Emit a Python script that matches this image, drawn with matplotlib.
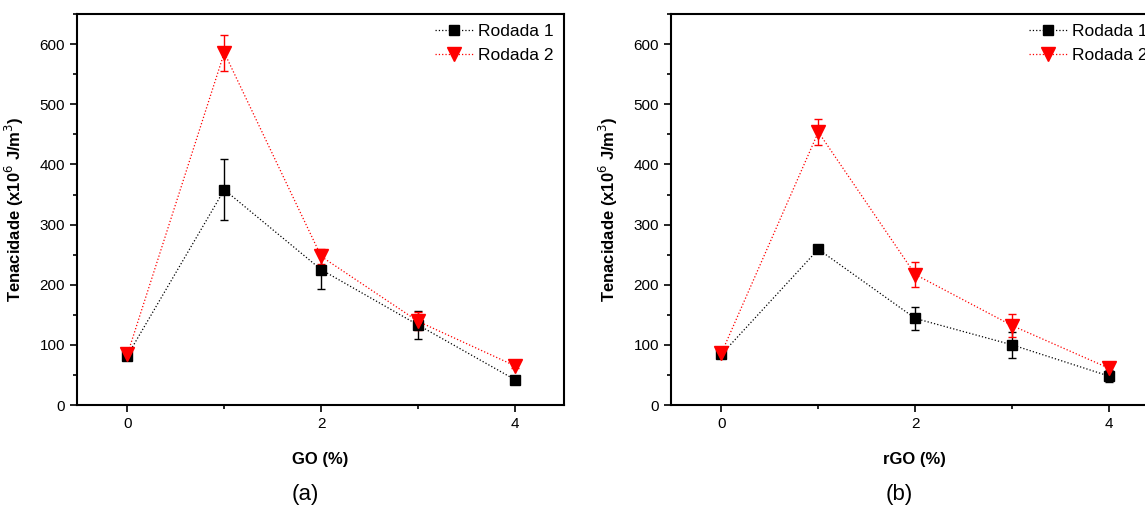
import matplotlib.pyplot as plt
from matplotlib.lines import Line2D
from matplotlib.ticker import MultipleLocator

plt.rcParams['font.family'] = ['Liberation Sans', 'DejaVu Sans']

x = [0, 1, 2, 3, 4]

# (a) GO
go_r1 = [82, 358, 225, 133, 42]
go_r1_err = [5, 51, 32, 23, 3]
go_r2 = [84, 586, 247, 139, 65]
go_r2_err = [7, 30, 12, 15, 3]

# (b) rGO
rgo_r1 = [84, 259, 144, 100, 48]
rgo_r1_err = [4, 4, 19, 21, 10]
rgo_r2 = [86, 454, 217, 132, 61]
rgo_r2_err = [5, 22, 21, 19, 10]

labels = ['Rodada 1', 'Rodada 2']
xlabels = ['GO (%)', 'rGO (%)']
captions = ['(a)', '(b)']


def draw_panel(ax, r1, r1_err, r2, r2_err, xlabel, caption):
    ax.errorbar(x, r1, yerr=r1_err, color='black', ls=':', lw=0.9,
                marker='s', ms=7, capsize=3, elinewidth=1, capthick=1)
    ax.errorbar(x, r2, yerr=r2_err, color='red', ls=':', lw=0.9,
                marker='v', ms=10, capsize=3, elinewidth=1, capthick=1)
    ax.set_xlim(-0.52, 4.5)
    ax.set_ylim(0, 650)
    ax.xaxis.set_major_locator(MultipleLocator(2))
    ax.xaxis.set_minor_locator(MultipleLocator(1))
    ax.yaxis.set_major_locator(MultipleLocator(100))
    ax.yaxis.set_minor_locator(MultipleLocator(50))
    ax.tick_params(which='both', direction='out', labelsize=11, width=1.2)
    ax.tick_params(which='major', length=5)
    ax.tick_params(which='minor', length=3)
    for s in ax.spines.values():
        s.set_linewidth(1.5)
    ax.set_xlabel(xlabel, fontsize=12, fontweight='bold', labelpad=15)
    ax.set_ylabel('Tenacidade (x10$^{6}$ J/m$^{3}$)',
                  fontsize=12, fontweight='bold', labelpad=10)
    handles = [
        Line2D([], [], color='black', ls=':', lw=0.9, marker='s', ms=7),
        Line2D([], [], color='red', ls=':', lw=0.9, marker='v', ms=10),
    ]
    ax.legend(handles, labels, loc='upper right', frameon=False, fontsize=12.5,
              handlelength=2.2, handletextpad=0.3, borderaxespad=0.15,
              labelspacing=0.5)
    ax.text(0.47, -0.23, caption, transform=ax.transAxes, ha='center',
            va='center', fontsize=16)


fig = plt.figure(figsize=(11.45, 5.09), dpi=100)
ax1 = fig.add_axes([0.0672, 0.2043, 0.425, 0.768])
ax2 = fig.add_axes([0.586, 0.2043, 0.425, 0.768])

draw_panel(ax1, go_r1, go_r1_err, go_r2, go_r2_err, xlabels[0], captions[0])
draw_panel(ax2, rgo_r1, rgo_r1_err, rgo_r2, rgo_r2_err, xlabels[1], captions[1])

plt.savefig('out.png', dpi=100)
